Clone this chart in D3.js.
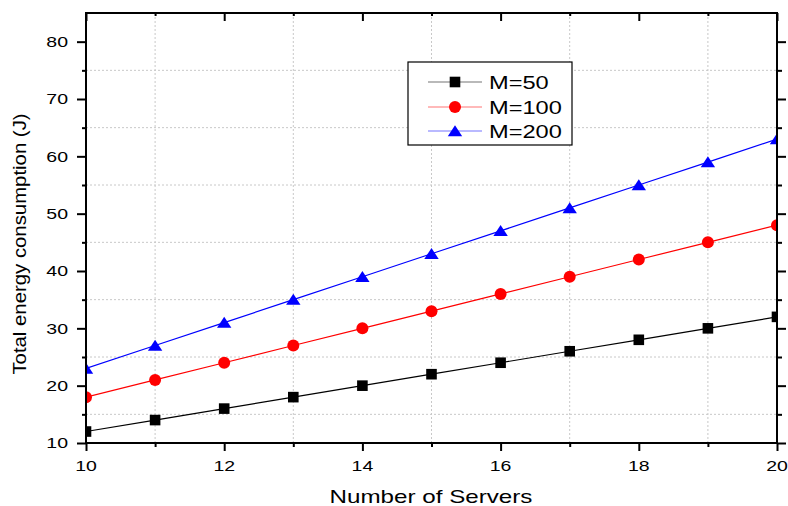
<!DOCTYPE html>
<html><head><meta charset="utf-8">
<script src="https://cdn.jsdelivr.net/npm/d3@7"></script>
<style>body{margin:0;background:#fff}svg{display:block}text{font-family:"Liberation Sans",Arial,sans-serif;fill:#000}</style>
</head><body><svg id="c" width="788" height="506"></svg>
<script>
const servers = [10,11,12,13,14,15,16,17,18,19,20];
const m50  = [12,14,16,18,20,22,24,26,28,30,32];
const m100 = [18,21,24,27,30,33,36,39,42,45,48];
const m200 = [23,27,31,35,39,43,47,51,55,59,63];
const seriesNames = ["M=50","M=100","M=200"];
const seriesColors = ["#000000","#ff0000","#0000ff"];
const seriesShapes = ["square","circle","triangle"];
const xMajor = [10,12,14,16,18,20];
const xMinor = [11,13,15,17,19];
const yMajor = [10,20,30,40,50,60,70,80];
const yMinor = [15,25,35,45,55,65,75];

const svg = d3.select("#c");
const L=86,R=777,T=13,B=443;
const x = d3.scaleLinear().domain([10,20]).range([L,R]);
const y = d3.scaleLinear().domain([10,85]).range([B,T]);

// grid
const grid = svg.append("g").attr("stroke","#c8c8c8").attr("stroke-width",1).attr("stroke-dasharray","2,2");
grid.selectAll(".gy").data(yMinor).join("line").attr("x1",L).attr("x2",R).attr("y1",d=>y(d)).attr("y2",d=>y(d));
grid.selectAll(".gx").data(xMinor).join("line").attr("y1",T).attr("y2",B).attr("x1",d=>x(d)).attr("x2",d=>x(d));

// data
const clip = svg.append("clipPath").attr("id","pc").append("rect").attr("x",L).attr("y",T).attr("width",R-L).attr("height",B-T);
const series = [m50,m100,m200];
function marker(g, shape, color){
  if(shape==="square") g.append("rect").attr("x",-5.3).attr("y",-5.3).attr("width",10.6).attr("height",10.6).attr("fill",color);
  else if(shape==="circle") g.append("circle").attr("r",6).attr("fill",color);
  else g.append("path").attr("d","M0,-5.8L7.2,5.2L-7.2,5.2Z").attr("fill",color);
}
const plot = svg.append("g").attr("clip-path","url(#pc)");
series.forEach((vals,i)=>{
  const pts = servers.map((s,j)=>[s,vals[j]]);
  plot.append("path").datum(pts).attr("fill","none").attr("stroke",seriesColors[i]).attr("stroke-width",1.2)
    .attr("d",d3.line().x(d=>x(d[0])).y(d=>y(d[1])));
  pts.forEach(p=>{
    const g = plot.append("g").attr("transform",`translate(${x(p[0])},${y(p[1])})`);
    marker(g,seriesShapes[i],seriesColors[i]);
  });
});

// axes
function ax(g){ g.selectAll(".domain").remove(); g.selectAll("line").attr("stroke","#000").attr("stroke-width",2); }
svg.append("g").attr("transform",`translate(${L},0)`).call(d3.axisLeft(y).tickValues(yMajor).tickSize(9).tickFormat(""))
  .call(ax);
svg.append("g").attr("transform",`translate(${L},0)`).call(d3.axisLeft(y).tickValues(yMinor).tickSize(4).tickFormat("")).call(ax);
svg.append("g").attr("transform",`translate(${R},0)`).call(d3.axisLeft(y).tickValues(yMajor).tickSize(-9).tickFormat("")).call(ax);
svg.append("g").attr("transform",`translate(${R},0)`).call(d3.axisLeft(y).tickValues(yMinor).tickSize(-5).tickFormat("")).call(ax);
svg.append("g").attr("transform",`translate(0,${B})`).call(d3.axisBottom(x).tickValues(xMajor).tickSize(8).tickFormat("")).call(ax);
svg.append("g").attr("transform",`translate(0,${B})`).call(d3.axisBottom(x).tickValues(xMinor).tickSize(4).tickFormat("")).call(ax);
svg.append("g").attr("transform",`translate(0,${T})`).call(d3.axisBottom(x).tickValues(xMajor).tickSize(8).tickFormat("")).call(ax);
svg.append("g").attr("transform",`translate(0,${T})`).call(d3.axisBottom(x).tickValues(xMinor).tickSize(3).tickFormat("")).call(ax);

// frame
svg.append("rect").attr("x",L).attr("y",T).attr("width",R-L).attr("height",B-T).attr("fill","none").attr("stroke","#000").attr("stroke-width",2);

// tick labels (stretched horizontally)
svg.append("g").selectAll("text").data(yMajor).join("text")
  .attr("transform",d=>`translate(68,${y(d)+5.3}) scale(1.3,1)`).attr("text-anchor","end").attr("font-size",15).text(d=>d);
svg.append("g").selectAll("text").data(xMajor).join("text")
  .attr("transform",d=>`translate(${x(d)},471) scale(1.3,1)`).attr("text-anchor","middle").attr("font-size",15).text(d=>d);

// titles
svg.append("text").attr("transform","translate(431,503) scale(1.3,1)").attr("text-anchor","middle").attr("font-size",18.6).text("Number of Servers");
svg.append("text").attr("transform","translate(26,244) rotate(-90) scale(1.15,1)").attr("text-anchor","middle").attr("font-size",17.7).text("Total energy consumption (J)");

// legend
const lg = svg.append("g");
lg.append("rect").attr("x",408).attr("y",62).attr("width",164).attr("height",83).attr("fill","#fff").attr("stroke","#000").attr("stroke-width",1.2);
const rows=[82,107,131];
seriesNames.forEach((n,i)=>{
  lg.append("line").attr("x1",428).attr("x2",482).attr("y1",rows[i]).attr("y2",rows[i]).attr("stroke",seriesColors[i]).attr("stroke-width",1.2).attr("stroke-opacity",0.55);
  const g = lg.append("g").attr("transform",`translate(455,${rows[i]})`);
  marker(g,seriesShapes[i],seriesColors[i]);
  lg.append("text").attr("transform",`translate(489,${rows[i]+6.6}) scale(1.27,1)`).attr("font-size",18.6).text(n);
});
</script></body></html>
